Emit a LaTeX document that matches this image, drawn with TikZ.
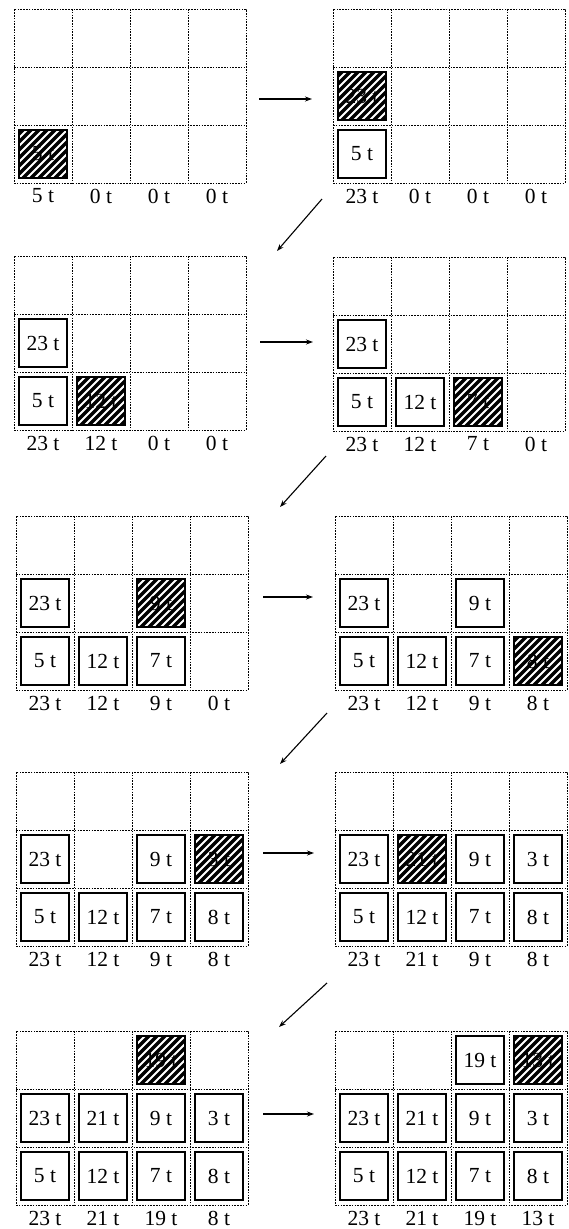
\documentclass[tikz,border=0pt]{standalone}
\usepackage{fontspec}
\setmainfont{Liberation Serif}
\usetikzlibrary{calc,arrows.meta}
\newcommand\cellfont{\fontsize{21.5}{25}\selectfont}
\tikzset{
  frame/.style={draw=black, line width=0.8pt, dash pattern=on 1.6pt off 1.2pt,
    minimum width=232pt, minimum height=174pt, inner sep=0pt, outer sep=0pt},
  gridline/.style={draw=black, line width=0.8pt, dash pattern=on 1.6pt off 1.2pt},
  cellbox/.style={draw=black, line width=1.2pt, fill=white, minimum width=48pt,
    minimum height=48pt, inner sep=0pt, font=\cellfont},
  hbox/.style={draw=black, line width=1.2pt, fill=black, minimum width=48pt,
    minimum height=48pt, inner sep=0pt, font=\cellfont,
    path picture={\foreach \k in {-48,-40,...,48}
      {\draw[white, line width=1.8pt] ([xshift=\k pt]path picture bounding box.south west) -- ++(60pt,60pt);}}},
  lab/.style={font=\cellfont, inner sep=0pt},
  arr/.style={-{Stealth[length=7pt,width=5pt]}, line width=1.1pt},
}
\newcommand\panel[3]{%
  \node[frame, anchor=north west] (#1) at (#2,#3) {};
  \foreach \i in {1,2,3}
    {\draw[gridline] ($(#1.north west)+(58pt*\i,0pt)$) -- ($(#1.south west)+(58pt*\i,0pt)$);}
  \foreach \j in {1,2}
    {\draw[gridline] ($(#1.north west)+(0pt,-58pt*\j)$) -- ($(#1.north east)+(0pt,-58pt*\j)$);}
}
% #1 panel, #2 col, #3 row (1 = bottom), #4 text, #5 name
\newcommand\bx[5]{\node[cellbox] (#5) at ($(#1.north west)+({58pt*(#2-1)+29pt},{-58pt*(3-#3)-29pt})$) {#4};}
\newcommand\hx[5]{\node[hbox] (#5) at ($(#1.north west)+({58pt*(#2-1)+29pt},{-58pt*(3-#3)-29pt})$) {#4};}
\newcommand\labs[5]{%
  \node[lab] (#1la) at ($(#1.south west)+(29pt,-13pt)$) {#2};
  \node[lab] (#1lb) at ($(#1.south west)+(87pt,-13pt)$) {#3};
  \node[lab] (#1lc) at ($(#1.south west)+(145pt,-13pt)$) {#4};
  \node[lab] (#1ld) at ($(#1.south west)+(203pt,-13pt)$) {#5};
}
\begin{document}
\begin{tikzpicture}[x=1pt,y=-1pt]
\useasboundingbox (0,0) rectangle (569,1229);
% ---------- row 1
\panel{pa}{14}{9}
\hx{pa}{1}{1}{5 t}{paH}
\labs{pa}{5 t}{0 t}{0 t}{0 t}
\panel{pb}{333}{9}
\bx{pb}{1}{1}{5 t}{pbA}
\hx{pb}{1}{2}{23 t}{pbH}
\labs{pb}{23 t}{0 t}{0 t}{0 t}
% ---------- row 2
\panel{pc}{14}{256}
\bx{pc}{1}{1}{5 t}{pcA}
\bx{pc}{1}{2}{23 t}{pcB}
\hx{pc}{2}{1}{12 t}{pcH}
\labs{pc}{23 t}{12 t}{0 t}{0 t}
\panel{pd}{333}{257}
\bx{pd}{1}{1}{5 t}{pdA}
\bx{pd}{1}{2}{23 t}{pdB}
\bx{pd}{2}{1}{12 t}{pdC}
\hx{pd}{3}{1}{7 t}{pdH}
\labs{pd}{23 t}{12 t}{7 t}{0 t}
% ---------- row 3
\panel{pe}{16}{516}
\bx{pe}{1}{1}{5 t}{peA}
\bx{pe}{1}{2}{23 t}{peB}
\bx{pe}{2}{1}{12 t}{peC}
\bx{pe}{3}{1}{7 t}{peD}
\hx{pe}{3}{2}{9 t}{peH}
\labs{pe}{23 t}{12 t}{9 t}{0 t}
\panel{pf}{335}{516}
\bx{pf}{1}{1}{5 t}{pfA}
\bx{pf}{1}{2}{23 t}{pfB}
\bx{pf}{2}{1}{12 t}{pfC}
\bx{pf}{3}{1}{7 t}{pfD}
\bx{pf}{3}{2}{9 t}{pfE}
\hx{pf}{4}{1}{8 t}{pfH}
\labs{pf}{23 t}{12 t}{9 t}{8 t}
% ---------- row 4
\panel{pg}{16}{772}
\bx{pg}{1}{1}{5 t}{pgA}
\bx{pg}{1}{2}{23 t}{pgB}
\bx{pg}{2}{1}{12 t}{pgC}
\bx{pg}{3}{1}{7 t}{pgD}
\bx{pg}{3}{2}{9 t}{pgE}
\bx{pg}{4}{1}{8 t}{pgF}
\hx{pg}{4}{2}{3 t}{pgH}
\labs{pg}{23 t}{12 t}{9 t}{8 t}
\panel{ph}{335}{772}
\bx{ph}{1}{1}{5 t}{phA}
\bx{ph}{1}{2}{23 t}{phB}
\bx{ph}{2}{1}{12 t}{phC}
\bx{ph}{3}{1}{7 t}{phD}
\bx{ph}{3}{2}{9 t}{phE}
\bx{ph}{4}{1}{8 t}{phF}
\bx{ph}{4}{2}{3 t}{phG}
\hx{ph}{2}{2}{21 t}{phH}
\labs{ph}{23 t}{21 t}{9 t}{8 t}
% ---------- row 5
\panel{pi}{16}{1031}
\bx{pi}{1}{1}{5 t}{piA}
\bx{pi}{1}{2}{23 t}{piB}
\bx{pi}{2}{1}{12 t}{piC}
\bx{pi}{3}{1}{7 t}{piD}
\bx{pi}{3}{2}{9 t}{piE}
\bx{pi}{4}{1}{8 t}{piF}
\bx{pi}{4}{2}{3 t}{piG}
\bx{pi}{2}{2}{21 t}{piI}
\hx{pi}{3}{3}{19 t}{piH}
\labs{pi}{23 t}{21 t}{19 t}{8 t}
\panel{pj}{335}{1031}
\bx{pj}{1}{1}{5 t}{pjA}
\bx{pj}{1}{2}{23 t}{pjB}
\bx{pj}{2}{1}{12 t}{pjC}
\bx{pj}{3}{1}{7 t}{pjD}
\bx{pj}{3}{2}{9 t}{pjE}
\bx{pj}{4}{1}{8 t}{pjF}
\bx{pj}{4}{2}{3 t}{pjG}
\bx{pj}{2}{2}{21 t}{pjI}
\bx{pj}{3}{3}{19 t}{pjJ}
\hx{pj}{4}{3}{13 t}{pjH}
\labs{pj}{23 t}{21 t}{19 t}{13 t}
% ---------- arrows
\coordinate (h1s) at (259,99);  \coordinate (h1e) at (312,99);
\coordinate (h2s) at (260,342); \coordinate (h2e) at (313,342);
\coordinate (h3s) at (263,597); \coordinate (h3e) at (313,597);
\coordinate (h4s) at (263,853); \coordinate (h4e) at (314,853);
\coordinate (h5s) at (263,1114); \coordinate (h5e) at (314,1114);
\draw[arr] (h1s) -- (h1e);
\draw[arr] (h2s) -- (h2e);
\draw[arr] (h3s) -- (h3e);
\draw[arr] (h4s) -- (h4e);
\draw[arr] (h5s) -- (h5e);
\coordinate (d1s) at (322,199); \coordinate (d1e) at (277,251);
\coordinate (d2s) at (326,456); \coordinate (d2e) at (280,507);
\coordinate (d3s) at (327,713); \coordinate (d3e) at (280,764);
\coordinate (d4s) at (327,983); \coordinate (d4e) at (279,1027);
\draw[arr] (d1s) -- (d1e);
\draw[arr] (d2s) -- (d2e);
\draw[arr] (d3s) -- (d3e);
\draw[arr] (d4s) -- (d4e);
\end{tikzpicture}
\end{document}
